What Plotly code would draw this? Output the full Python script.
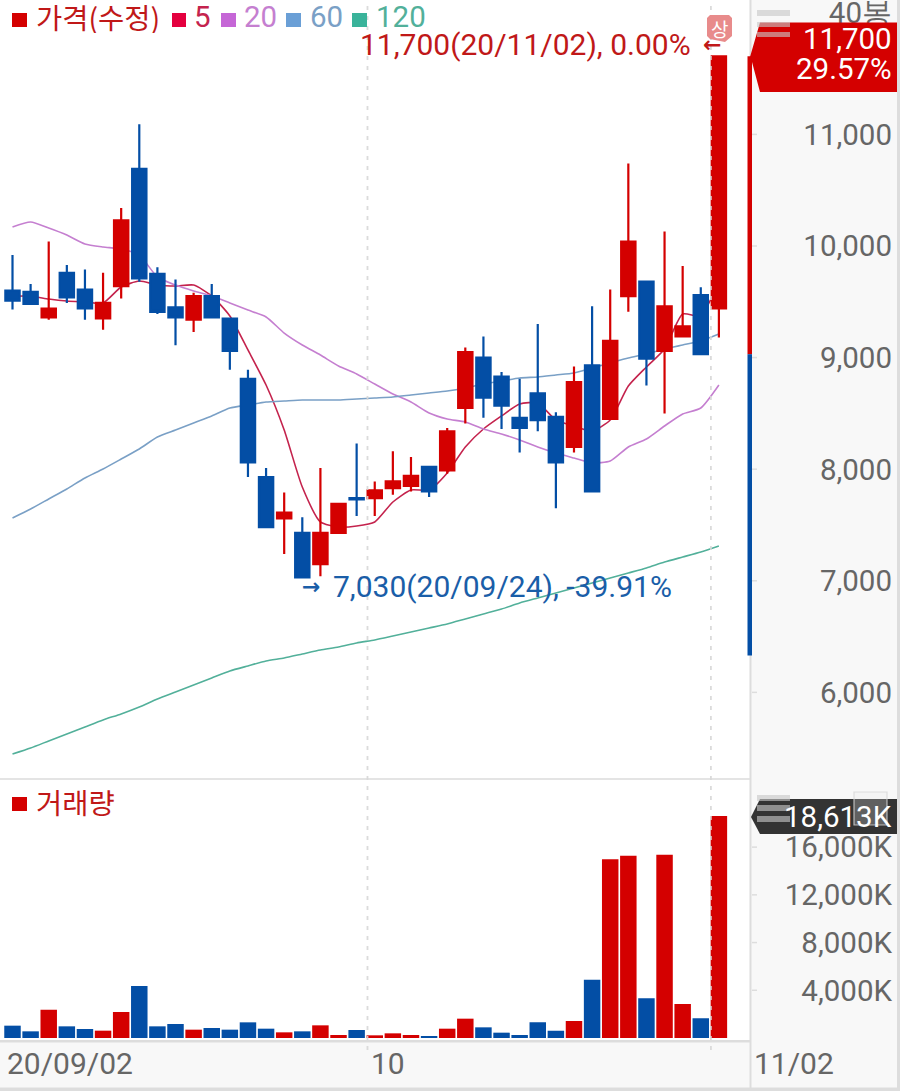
import plotly.graph_objects as go

W, H = 900, 1091
dates = ["2020-09-02","2020-09-03","2020-09-04","2020-09-07","2020-09-08","2020-09-09","2020-09-10","2020-09-11",
         "2020-09-14","2020-09-15","2020-09-16","2020-09-17","2020-09-18","2020-09-21","2020-09-22","2020-09-23",
         "2020-09-24","2020-09-25","2020-09-28","2020-09-29","2020-10-05","2020-10-06","2020-10-07","2020-10-08",
         "2020-10-12","2020-10-13","2020-10-14","2020-10-15","2020-10-16","2020-10-19","2020-10-20","2020-10-21",
         "2020-10-22","2020-10-23","2020-10-26","2020-10-27","2020-10-28","2020-10-29","2020-10-30","2020-11-02"]
opens  = [9600,9590,9360,9760,9610,9350,9640,10690,9750,9450,9340,9550,9350,8810,7930,7560,7430,7150,7430,7740,
          7740,7830,7850,8020,7990,8550,9000,8830,8460,8680,8470,8200,8930,8450,9550,9680,9060,9190,9560,9440]
highs  = [9920,9660,10040,9830,9790,9760,10340,11090,9810,9700,9580,9660,9350,8890,8010,7790,7570,8010,7690,8230,
          7890,8160,8110,8030,8370,9090,9190,8870,8810,9300,8510,8920,9460,9610,10740,9690,10130,9820,9630,11700]
lows   = [9430,9480,9340,9490,9340,9250,9530,9680,9390,9110,9230,9360,8890,7930,7470,7240,7030,7040,7430,7580,
          7580,7770,7800,7750,7960,8410,8460,8360,8150,8340,7650,8150,7800,8450,9410,8750,8500,9180,9030,9180]
closes = [9510,9480,9440,9540,9440,9490,10230,9710,9410,9360,9550,9360,9060,8060,7480,7610,7030,7430,7690,7730,
          7810,7890,7940,7800,8340,9050,8640,8570,8370,8440,8060,8780,7800,9150,10040,8990,9460,9280,9030,11700]
ma5    = [9550,9550,9525,9507,9498,9489,9632,9686,9650,9641,9650,9552,9373,9068,8754,8351,7840,7527,7482,7491,
          7527,7706,7814,7814,7966,8199,8360,8477,8584,8593,8441,8387,8342,8441,8745,8916,9077,9391,9373,9690]
ma20   = [10170,10215,10161,10098,10018,9991,9973,9919,9722,9650,9597,9552,9489,9426,9364,9220,9113,9023,8925,8853,
          8763,8674,8602,8504,8450,8423,8360,8315,8262,8199,8145,8100,8056,8073,8199,8271,8387,8495,8548,8754]
ma60   = [7563,7643,7733,7823,7921,8002,8091,8181,8288,8351,8414,8477,8548,8575,8602,8611,8620,8620,8620,8629,
          8638,8647,8665,8683,8701,8728,8763,8790,8817,8826,8844,8862,8907,8952,8996,9032,9077,9113,9149,9211]
ma120  = [5448,5502,5565,5627,5690,5753,5807,5869,5941,6004,6066,6129,6192,6237,6281,6308,6344,6380,6407,6443,
          6470,6505,6541,6577,6613,6658,6703,6747,6801,6846,6891,6936,6980,7025,7070,7115,7168,7213,7258,7312]
volume = [1034,559,2375,978,754,615,2179,4359,978,1173,699,838,699,1313,782,475,559,1062,251,671,
          224,391,251,168,782,1621,894,447,251,1313,615,1425,4890,14976,15283,3325,15367,2850,1648,18613]

price_ticks = [11000,10000,9000,8000,7000,6000]
price_labels = ["11,000","10,000","9,000","8,000","7,000","6,000"]
volume_ticks = [16000,12000,8000,4000]
volume_labels = ["16,000K","12,000K","8,000K","4,000K"]
count_label = "40봉"
count_label_at = 12090
upper_price, prev_close, lower_limit = 11700, 9030, 6330

RED = "#d40000"; BLUE = "#034ea5"; TXT_RED = "#c01818"; TXT_BLUE = "#1a5ea8"; GREY = "#666666"
C5 = "#c4234d"; C20 = "#c57fd0"; C60 = "#7aa0c6"; C120 = "#52b09a"
NUM = "Roboto"; KR = "Noto Sans CJK KR"

def px(x): return x / W
def py(y): return 1 - y / H

vol_colors = [RED if c >= o else BLUE for o, c in zip(opens, closes)]
XR = [-0.69, 40.69]
YR = [5224, 12204]
VR = [-251, 21626]

fig = go.Figure()
for name, vals, col in [("5", ma5, C5), ("20", ma20, C20), ("60", ma60, C60), ("120", ma120, C120)]:
    fig.add_trace(go.Scatter(x=dates, y=vals, name=name, mode="lines", line=dict(color=col, width=1.6, shape="spline", smoothing=0.6),
                             xaxis="x", yaxis="y"))
fig.add_trace(go.Candlestick(x=dates, open=opens, high=highs, low=lows, close=closes, name="가격(수정)",
                             increasing=dict(line=dict(color=RED, width=2.2), fillcolor=RED),
                             decreasing=dict(line=dict(color=BLUE, width=2.2), fillcolor=BLUE),
                             whiskerwidth=0, xaxis="x3", yaxis="y3"))
fig.add_trace(go.Bar(x=dates, y=volume, name="거래량", width=0.91, marker=dict(color=vol_colors, line=dict(width=0)),
                     xaxis="x2", yaxis="y2"))

shapes = []
def rect(x0, y0, x1, y1, color, layer="above"):
    shapes.append(dict(type="rect", xref="paper", yref="paper", x0=px(x0), x1=px(x1), y0=py(y0), y1=py(y1),
                       fillcolor=color, line=dict(width=0), layer=layer))
def poly(points, color, line=None):
    path = "M" + " L".join(f"{px(a):.5f},{py(b):.5f}" for a, b in points) + " Z"
    shapes.append(dict(type="path", xref="paper", yref="paper", path=path, fillcolor=color,
                       line=dict(width=0) if line is None else line, layer="above"))

# panel separators
rect(0, 778, 750, 780, "#e4e4e4")
rect(0, 1040, 750, 1042.5, "#dddddd")
rect(749.5, 0, 751.5, 1091, "#dddddd")
rect(897, 0, 900, 1091, "#dddddd")
rect(0, 1087.5, 900, 1091, "#dddddd")

# dashed date separators
for i in (dates.index("2020-09-29") + 0.6, dates.index("2020-10-30") + 0.56):
    shapes.append(dict(type="line", xref="x", yref="paper", x0=i, x1=i, y0=py(1050), y1=py(4),
                       line=dict(color="rgba(215,215,215,0.9)", width=1.8, dash="4px,6px"), layer="above"))

# axis tick marks
for t in price_ticks:
    shapes.append(dict(type="line", xref="paper", yref="y", x0=px(752), x1=px(757), y0=t, y1=t,
                       line=dict(color="#dddddd", width=1.5), layer="above"))
for t in volume_ticks:
    shapes.append(dict(type="line", xref="paper", yref="y2", x0=px(752), x1=px(757), y0=t, y1=t,
                       line=dict(color="#dddddd", width=1.5), layer="above"))

# price limit bar
shapes.append(dict(type="rect", xref="paper", yref="y", x0=px(747.5), x1=px(752), y0=prev_close, y1=upper_price,
                   fillcolor=RED, line=dict(width=0), layer="above"))
shapes.append(dict(type="rect", xref="paper", yref="y", x0=px(747.5), x1=px(752), y0=lower_limit, y1=prev_close,
                   fillcolor=BLUE, line=dict(width=0), layer="above"))

# current-value flags
poly([(750, 57), (760, 22.5), (897, 22.5), (897, 92), (760, 92), (752, 62)], RED)
poly([(751, 817), (760, 799), (897, 799), (897, 834), (760, 834)], "#333333")

# drag handles and close box
for y0, y1 in [(10, 16), (22, 27), (32, 37), (795, 801), (805, 811), (816, 822)]:
    rect(757, y0, 790, y1, "rgba(200,200,200,0.62)")
shapes.append(dict(type="rect", xref="paper", yref="paper", x0=px(854), x1=px(887), y0=py(792), y1=py(825),
                   fillcolor="rgba(230,230,230,0.25)", line=dict(color="rgba(215,215,215,0.8)", width=1.2), layer="above"))

# limit-up badge
poly([(707, 18), (710, 15), (729, 15), (732, 18), (732, 36), (725, 42), (710, 39), (707, 36)], "#e88b8b")

# legend markers
for x0, x1, y0, y1, c in [(12, 27, 13, 27, RED), (172, 186, 13, 27, "#e4003f"), (221, 236, 13, 27, "#c566d6"),
                          (286, 301, 13, 27, "#6a9fd6"), (352, 367, 13, 27, "#3ab39a"), (12, 27, 797, 811, RED)]:
    rect(x0, y0, x1, y1, c)

annos = []
def text(x, y, s, color, size=29.5, anchor="left", family=NUM, height=None):
    annos.append(dict(xref="paper", yref="paper", x=px(x), y=py(y), text=s, showarrow=False, xanchor=anchor,
                      yanchor="middle", font=dict(family=family, size=size, color=color), borderpad=0, borderwidth=0,
                      height=height, valign="middle"))

text(36, 17, "가격(수정)", TXT_RED, 28.5, family=KR, height=33)
text(194, 17, "5", C5, 29.5, height=33)
text(244, 17, "20", C20, 29.5, height=33)
text(310, 17, "60", C60, 29.5, height=33)
text(376, 17, "120", C120, 29.5, height=33)
text(36, 801, "거래량", TXT_RED, 28.5, family=KR)
text(690.5, 45, "11,700(20/11/02), 0.00%", TXT_RED, 30, "right")
text(703, 45, "<b>←</b>", TXT_RED, 22, family="DejaVu Sans")
text(333, 586, "7,030(20/09/24), -39.91%", TXT_BLUE, 30)
text(302, 586, "<b>→</b>", TXT_BLUE, 22, family="DejaVu Sans")
text(719.5, 28, "상", "#ffffff", 19, "center", family=KR)
text(892, 39, "11,700", "#ffffff", 29.5, "right")
text(892, 69, "29.57%", "#ffffff", 29.5, "right")
text(892, 817, "18,613K", "#ffffff", 29.5, "right")
text(7, 1063, "20/09/02", GREY, 30)
text(371, 1063, "10", GREY, 30)
text(754, 1063, "11/02", GREY, 30)

axis_off = dict(showgrid=False, zeroline=False, showticklabels=False, ticks="", showline=False, automargin=False)
fig.update_layout(
    width=W, height=H, margin=dict(l=0, r=0, t=0, b=0), autosize=False, showlegend=False,
    paper_bgcolor="#f8f8f8", plot_bgcolor="#ffffff", boxgap=0.21, boxgroupgap=0, bargap=0.09,
    xaxis=dict(domain=[0, px(749.5)], range=XR, type="category", anchor="y", rangeslider=dict(visible=False), **axis_off),
    xaxis2=dict(domain=[0, px(749.5)], range=XR, type="category", anchor="y2", **axis_off),
    xaxis3=dict(domain=[0, px(749.5)], range=XR, type="category", anchor="y3", overlaying="x",
                rangeslider=dict(visible=False), visible=False, automargin=False),
    yaxis=dict(domain=[py(779), 1], range=YR, anchor="free", position=px(895), side="right", showgrid=False, automargin=False,
               zeroline=False, showline=False, ticks="", ticklabelposition="inside", ticklabeloverflow="allow",
               tickmode="array", tickvals=[count_label_at] + price_ticks, ticktext=[count_label] + price_labels,
               tickfont=dict(family=NUM, size=29.5, color=GREY)),
    yaxis2=dict(domain=[py(1041), py(780)], range=VR, anchor="free", position=px(895), side="right", showgrid=False, automargin=False,
                zeroline=False, showline=False, ticks="", ticklabelposition="inside", ticklabeloverflow="allow",
                tickmode="array", tickvals=volume_ticks, ticktext=volume_labels,
                tickfont=dict(family=NUM, size=29.5, color=GREY)),
    yaxis3=dict(domain=[py(779), 1], range=YR, anchor="x3", overlaying="y", visible=False, automargin=False),
    shapes=shapes, annotations=annos,
)
fig.write_html("out.html", config=dict(displayModeBar=False),
               post_script="document.body.style.margin='0';document.documentElement.style.overflow='hidden';")
